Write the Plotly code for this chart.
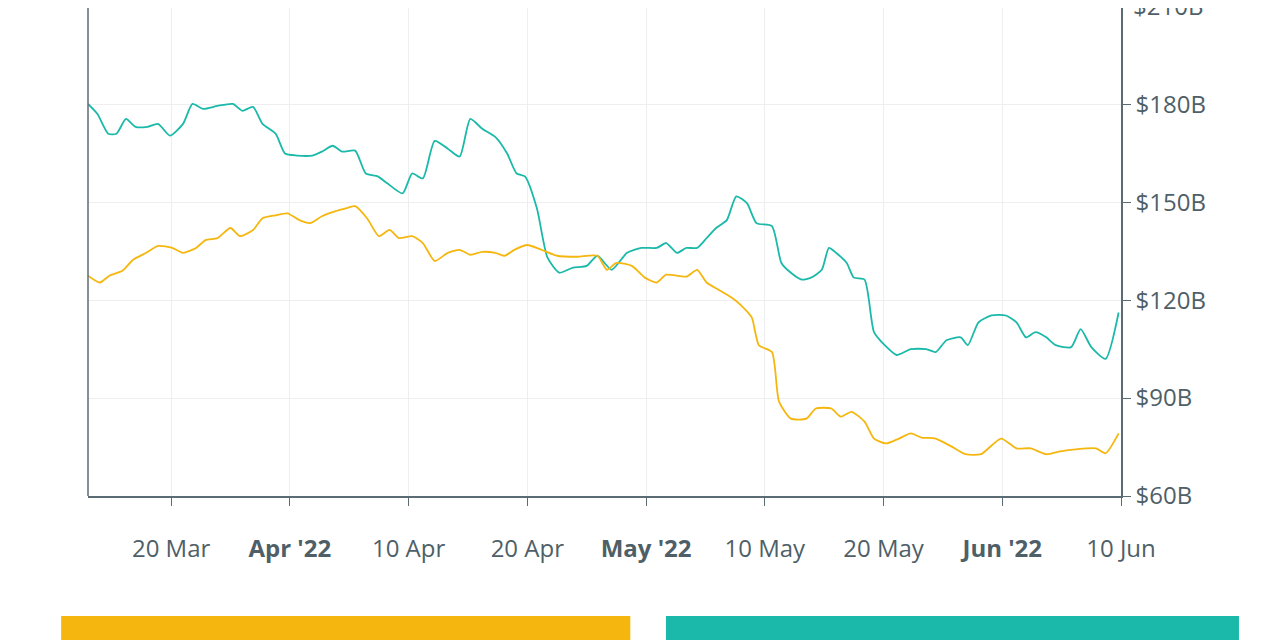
import plotly.graph_objects as go

# x positions in "tick units" (10 units between labelled ticks), values in $B
TEAL_X = [0, 0.8, 1.7, 2.4, 3.2, 4.0, 5.0, 5.9, 6.9, 8.0, 8.8, 9.7, 10.9, 12.2, 13.0, 13.9,
          14.7, 15.8, 16.6, 17.6, 18.9, 19.7, 20.6, 21.4, 22.5, 23.4, 24.4, 25.2, 26.5, 27.3,
          28.2, 29.2, 30.3, 31.3, 32.2, 33.2, 34.3, 35.3, 36.1, 36.8, 37.8, 38.7, 39.7, 40.8,
          42.0, 42.9, 44.1, 45.4, 46.6, 47.9, 48.7, 49.6, 50.4, 51.3, 52.1, 52.9, 53.8, 54.6,
          55.5, 56.3, 57.6, 58.4, 59.2, 60.1, 60.9, 61.8, 62.4, 63.0, 63.9, 64.5, 65.4, 66.2,
          67.1, 68.1, 69.3, 70.6, 71.4, 72.3, 73.5, 74.1, 75.0, 76.1, 77.3, 78.2, 79.0, 79.8,
          80.7, 81.5, 82.8, 83.6, 84.5, 85.7, 86.8]
TEAL_Y = [180.1, 177.0, 171.0, 171.0, 175.5, 173.1, 173.1, 174.0, 170.4, 174.0, 180.1, 178.6,
          179.5, 180.1, 178.0, 179.2, 174.0, 171.0, 164.9, 164.3, 164.3, 165.5, 167.3, 165.5,
          165.8, 158.8, 157.9, 155.8, 152.7, 158.8, 157.3, 168.8, 166.4, 164.0, 175.5, 172.5,
          170.0, 164.9, 158.8, 157.9, 148.2, 133.0, 128.4, 129.9, 130.5, 133.6, 129.3, 134.5,
          136.0, 136.0, 137.5, 134.5, 136.0, 136.0, 139.0, 142.1, 144.5, 151.8, 149.7, 143.6,
          142.7, 131.4, 128.4, 126.3, 126.9, 129.3, 136.0, 134.5, 131.4, 126.9, 126.3, 110.2,
          106.2, 103.2, 105.0, 105.0, 104.1, 107.7, 108.6, 106.2, 113.2, 115.3, 115.3, 113.2,
          108.6, 110.2, 108.6, 106.2, 105.6, 111.1, 105.6, 102.0, 116.2]

GOLD_X = [0, 1.0, 1.8, 2.9, 3.8, 4.9, 5.9, 7.1, 8.0, 9.1, 9.9, 10.9, 12.0, 12.8, 13.9, 14.7,
          15.8, 16.8, 17.8, 18.7, 19.7, 20.8, 21.8, 22.5, 23.5, 24.5, 25.4, 26.2, 27.3, 28.2,
          29.2, 30.3, 31.3, 32.2, 33.2, 34.3, 35.1, 35.9, 37.0, 38.2, 39.5, 41.2, 42.9, 43.7,
          44.5, 45.8, 46.9, 47.9, 48.7, 50.4, 51.3, 52.1, 53.1, 54.2, 55.0, 55.9, 56.5, 57.6,
          58.2, 59.2, 60.5, 61.3, 62.6, 63.4, 64.3, 65.4, 66.2, 67.2, 68.3, 69.3, 70.2, 71.4,
          72.7, 73.9, 75.2, 76.9, 78.2, 79.4, 80.7, 81.9, 83.2, 84.9, 85.7, 86.8]
GOLD_Y = [127.5, 125.4, 127.5, 129.0, 132.4, 134.5, 136.6, 136.0, 134.5, 136.0, 138.4, 139.0,
          142.1, 139.6, 141.5, 145.1, 146.0, 146.6, 144.5, 143.6, 145.7, 147.2, 148.2, 148.8,
          145.1, 139.6, 141.5, 139.0, 139.6, 137.5, 132.0, 134.5, 135.4, 133.9, 134.8, 134.5,
          133.6, 135.4, 136.9, 135.4, 133.6, 133.3, 133.6, 129.3, 131.4, 130.5, 126.9, 125.4,
          127.8, 127.2, 129.3, 125.4, 123.2, 120.8, 118.4, 114.7, 106.2, 104.1, 88.9, 83.7,
          83.7, 86.8, 86.8, 84.3, 85.8, 82.8, 77.6, 76.1, 77.6, 79.2, 77.9, 77.6, 75.2, 72.8,
          72.8, 77.6, 74.6, 74.6, 72.8, 73.7, 74.3, 74.6, 73.1, 79.2]

TICK_POS = [7, 17, 27, 37, 47, 57, 67, 77, 87]
TICK_TEXT = ["20 Mar", "<b>Apr '22</b>", "10 Apr", "20 Apr", "<b>May '22</b>",
             "10 May", "20 May", "<b>Jun '22</b>", "10 Jun"]
Y_TICKS = [60, 90, 120, 150, 180]

TEAL = "#1ab9a9"
GOLD = "#f5b70f"
AXIS = "#5b6b73"
TEXT = "#4f5f68"

fig = go.Figure()
fig.add_trace(go.Scatter(x=TEAL_X, y=TEAL_Y, mode="lines",
                         line={"color": TEAL, "width": 1.8, "shape": "spline", "smoothing": 0.6}))
fig.add_trace(go.Scatter(x=GOLD_X, y=GOLD_Y, mode="lines",
                         line={"color": GOLD, "width": 1.8, "shape": "spline", "smoothing": 0.6}))

fig.update_layout(
    width=1280, height=640, showlegend=False,
    plot_bgcolor="white", paper_bgcolor="white",
    margin={"l": 80, "r": 167, "t": 0, "b": 152, "autoexpand": False},
    font={"family": "Open Sans", "size": 24, "color": TEXT},
    xaxis={"range": [0, 87], "tickvals": TICK_POS, "ticktext": TICK_TEXT,
           "showgrid": True, "gridcolor": "#eeeeee", "showline": True,
           "linecolor": AXIS, "linewidth": 1.5, "ticks": "outside", "ticklen": 8,
           "tickcolor": AXIS, "zeroline": False, "ticklabelstandoff": 22,
           "automargin": False},
    yaxis={"range": [60, 209.5], "side": "right", "tickvals": Y_TICKS,
           "ticktext": [f"${v}B" for v in Y_TICKS],
           "showgrid": True, "gridcolor": "#eeeeee", "showline": True,
           "linecolor": AXIS, "linewidth": 1.5, "ticks": "outside", "ticklen": 8,
           "tickcolor": AXIS, "zeroline": False, "automargin": False},
    shapes=[
        {"type": "line", "xref": "paper", "yref": "paper", "x0": 0, "x1": 0, "y0": 0, "y1": 1,
         "line": {"color": AXIS, "width": 1.5}},
        {"type": "rect", "xref": "paper", "yref": "paper", "x0": -0.026, "x1": 0.525,
         "y0": -0.32, "y1": -0.246, "fillcolor": GOLD, "line": {"width": 0}},
        {"type": "rect", "xref": "paper", "yref": "paper", "x0": 0.5595, "x1": 1.1142,
         "y0": -0.32, "y1": -0.246, "fillcolor": TEAL, "line": {"width": 0}},
    ],
    annotations=[{"x": 1, "y": 1, "xref": "paper", "yref": "paper", "text": "$210B",
                  "showarrow": False, "xanchor": "left", "yanchor": "middle",
                  "xshift": 10, "yshift": 3, "font": {"size": 24, "color": TEXT}}],
)

fig.write_html("out.html")
